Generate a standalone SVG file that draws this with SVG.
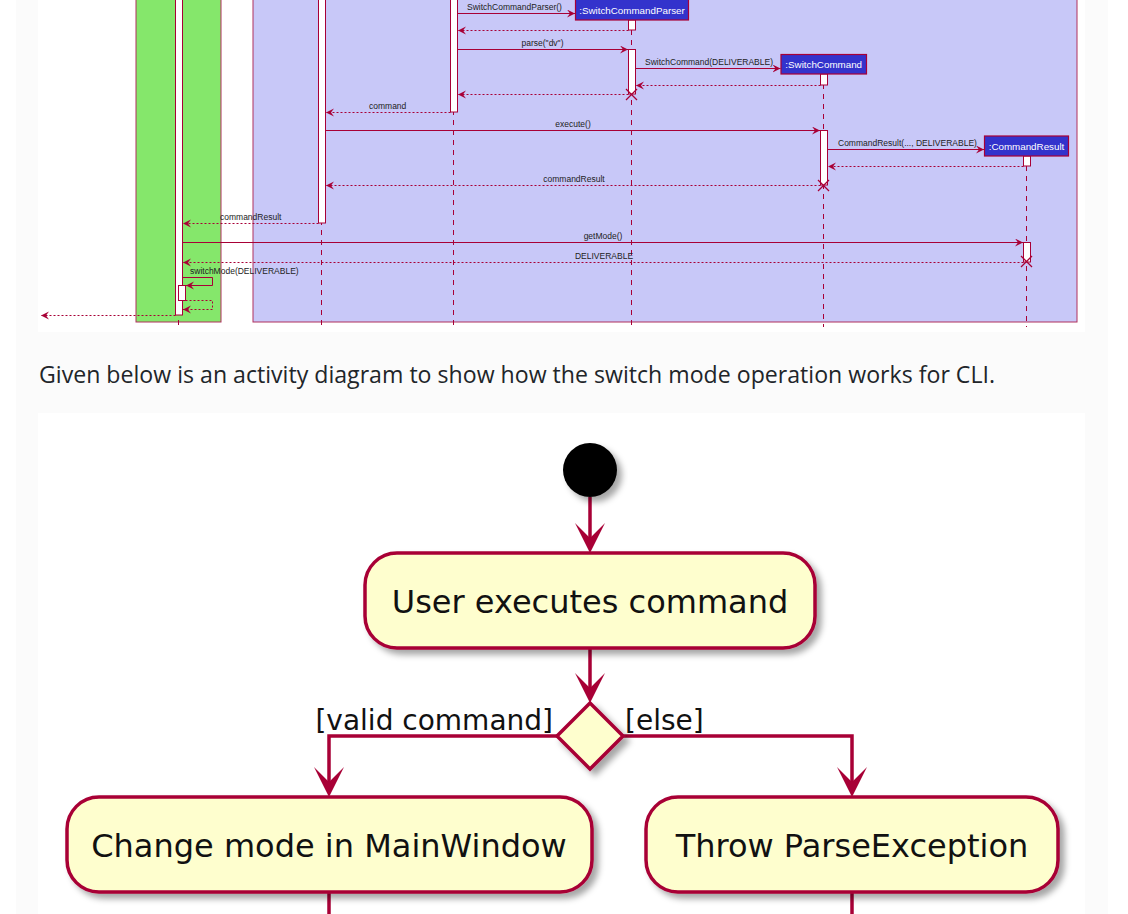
<svg xmlns="http://www.w3.org/2000/svg" width="1128" height="914" viewBox="0 0 1128 914">
<style>
.seq{font-family:"Liberation Sans",Arial,sans-serif;font-size:8.5px;fill:#222}
.head{font-family:"Liberation Sans",Arial,sans-serif;font-size:9.8px;fill:#ffffff}
.life{stroke:#A80036;stroke-width:1;stroke-dasharray:5,5;fill:none}
.msg{stroke:#A80036;stroke-width:1;fill:none;marker-end:url(#sa)}
.ret{stroke:#A80036;stroke-width:1;stroke-dasharray:2,2;fill:none;marker-end:url(#sa)}
.act{fill:#ffffff;stroke:#A80036;stroke-width:1}
.hbox{fill:#3333cc;stroke:#A80036;stroke-width:1.2}
.anode{fill:#FEFECE;stroke:#A80036;stroke-width:3.5}
.aedge{stroke:#A80036;stroke-width:3.5;fill:none}
.atxt{font-family:"DejaVu Sans",Verdana,sans-serif;font-size:32px;fill:#111}
.glbl{font-family:"DejaVu Sans",Verdana,sans-serif;font-size:28px;fill:#111}
.para{font-family:"Open Sans","Noto Sans",sans-serif;font-size:23px;fill:#212529}
</style>
<defs>
<marker id="sa" markerUnits="userSpaceOnUse" markerWidth="10" markerHeight="10" refX="8" refY="4" orient="auto">
<path d="M0,0 L8,4 L0,8 L3,4 Z" fill="#A80036"/>
</marker>
<filter id="sh" x="-10%" y="-10%" width="130%" height="140%">
<feDropShadow dx="5" dy="5" stdDeviation="3" flood-color="#000" flood-opacity="0.35"/>
</filter>
</defs>
<rect x="0" y="0" width="1128" height="914" fill="#ffffff"/>
<rect x="16" y="0" width="1092" height="914" fill="#fbfbfb"/>
<rect x="38" y="0" width="1047" height="332" fill="#ffffff"/>
<rect x="38" y="413" width="1047" height="501" fill="#ffffff"/>
<text class="para" x="39" y="383" textLength="956" lengthAdjust="spacingAndGlyphs">Given below is an activity diagram to show how the switch mode operation works for CLI.</text>

<g id="sequence">
<rect id="box-ui" x="136" y="-2" width="85" height="324" fill="#85e76b" stroke="#b0305e" stroke-width="1"/>
<rect id="box-logic" x="253" y="-2" width="824" height="324" fill="#c8c8f8" stroke="#b0305e" stroke-width="1"/>
<g id="lifelines">
<line class="life" x1="178.5" y1="0" x2="178.5" y2="327"/>
<line class="life" x1="321.5" y1="0" x2="321.5" y2="327"/>
<line class="life" x1="453.5" y1="0" x2="453.5" y2="327"/>
<line class="life" x1="631.5" y1="20" x2="631.5" y2="327"/>
<line class="life" x1="823.5" y1="74" x2="823.5" y2="327"/>
<line class="life" x1="1026.5" y1="156" x2="1026.5" y2="327"/>
</g>
<g id="activations">
<rect class="act" x="175.5" y="-2" width="7" height="317"/>
<rect class="act" x="178.5" y="285.5" width="7" height="15"/>
<rect class="act" x="318.5" y="-2" width="7" height="225"/>
<rect class="act" x="450.5" y="-2" width="7" height="114"/>
<rect class="act" x="628.5" y="20" width="7" height="10"/>
<rect class="act" x="628.5" y="49.5" width="7" height="44.5"/>
<rect class="act" x="820.5" y="74" width="7" height="11"/>
<rect class="act" x="820.5" y="130.5" width="7" height="54.5"/>
<rect class="act" x="1023.5" y="156" width="7" height="10"/>
<rect class="act" x="1023.5" y="242.5" width="7" height="19.5"/>
</g>
<g id="head-SwitchCommandParser">
<rect class="hbox" x="575.5" y="-3" width="113" height="23"/>
<text class="head" x="632" y="14" text-anchor="middle">:SwitchCommandParser</text>
</g>
<g id="head-SwitchCommand">
<rect class="hbox" x="781" y="54.5" width="85.5" height="19.5"/>
<text class="head" x="823.7" y="68" text-anchor="middle">:SwitchCommand</text>
</g>
<g id="head-CommandResult">
<rect class="hbox" x="984.5" y="136" width="84" height="20"/>
<text class="head" x="1026.5" y="150" text-anchor="middle">:CommandResult</text>
</g>
<g id="messages">
<line class="msg" x1="457.5" y1="13.5" x2="575" y2="13.5"/>
<text class="seq" x="467" y="10">SwitchCommandParser()</text>
<line class="ret" x1="628.5" y1="30.5" x2="458" y2="30.5"/>
<line class="msg" x1="457.5" y1="49.5" x2="628" y2="49.5"/>
<text class="seq" x="542.5" y="46" text-anchor="middle">parse("dv")</text>
<line class="msg" x1="635.5" y1="68.5" x2="780.5" y2="68.5"/>
<text class="seq" x="645" y="65">SwitchCommand(DELIVERABLE)</text>
<line class="ret" x1="820.5" y1="85.5" x2="636" y2="85.5"/>
<line class="ret" x1="628.5" y1="94.5" x2="458" y2="94.5"/>
<line class="ret" x1="450.5" y1="112.5" x2="326" y2="112.5"/>
<text class="seq" x="369" y="108.5">command</text>
<line class="msg" x1="325.5" y1="130.5" x2="820" y2="130.5"/>
<text class="seq" x="573" y="127" text-anchor="middle">execute()</text>
<line class="msg" x1="827.5" y1="149.5" x2="984" y2="149.5"/>
<text class="seq" x="838" y="146">CommandResult(..., DELIVERABLE)</text>
<line class="ret" x1="1023.5" y1="166.5" x2="828" y2="166.5"/>
<line class="ret" x1="820.5" y1="185.5" x2="326" y2="185.5"/>
<text class="seq" x="574" y="182" text-anchor="middle">commandResult</text>
<line class="ret" x1="318.5" y1="223.5" x2="183" y2="223.5"/>
<text class="seq" x="220" y="220">commandResult</text>
<line class="msg" x1="182.5" y1="242.5" x2="1023" y2="242.5"/>
<text class="seq" x="603" y="239" text-anchor="middle">getMode()</text>
<line class="ret" x1="1023.5" y1="262.5" x2="183" y2="262.5"/>
<text class="seq" x="604" y="258.5" text-anchor="middle">DELIVERABLE</text>
<polyline class="msg" points="182.5,277.5 212.5,277.5 212.5,285.5 186,285.5"/>
<text class="seq" x="190" y="274">switchMode(DELIVERABLE)</text>
<polyline class="ret" points="185.5,300.5 212.5,300.5 212.5,309.5 183,309.5"/>
<line class="ret" x1="175.5" y1="315.5" x2="41" y2="315.5"/>
<g stroke="#A80036" stroke-width="1.3">
<line x1="626" y1="89" x2="637" y2="100"/><line x1="637" y1="89" x2="626" y2="100"/>
<line x1="818" y1="180" x2="829" y2="191"/><line x1="829" y1="180" x2="818" y2="191"/>
<line x1="1021" y1="256" x2="1032" y2="267"/><line x1="1032" y1="256" x2="1021" y2="267"/>
</g>
</g>
</g>

<g id="activity">
<g id="connectors">
<line class="aedge" x1="590" y1="497" x2="590" y2="540"/>
<polygon points="590,553 575,523 590,538 605,523" fill="#A80036"/>
<line class="aedge" x1="590" y1="648" x2="590" y2="690"/>
<polygon points="590,703 575,673 590,688 605,673" fill="#A80036"/>
<polyline class="aedge" points="558,736 329,736 329,785"/>
<polygon points="329,797 314,767 329,782 344,767" fill="#A80036"/>
<polyline class="aedge" points="623,736 852,736 852,785"/>
<polygon points="852,797 837,767 852,782 867,767" fill="#A80036"/>
<line class="aedge" x1="329" y1="892" x2="329" y2="914"/>
<line class="aedge" x1="852" y1="892" x2="852" y2="914"/>
<text class="glbl" x="553" y="730" text-anchor="end">[valid command]</text>
<text class="glbl" x="625" y="730">[else]</text>
</g>
<g id="start">
<circle cx="590" cy="470" r="27" fill="#000" filter="url(#sh)"/>
</g>
<g id="user-executes-command">
<rect class="anode" x="365" y="553" width="450" height="95" rx="32" filter="url(#sh)"/>
<text class="atxt" x="590" y="613" text-anchor="middle">User executes command</text>
</g>
<g id="decision">
<polygon class="anode" points="590,703 623,736 590,769 557,736" filter="url(#sh)"/>
</g>
<g id="change-mode">
<rect class="anode" x="67" y="797" width="525" height="95" rx="32" filter="url(#sh)"/>
<text class="atxt" x="329" y="857" text-anchor="middle">Change mode in MainWindow</text>
</g>
<g id="throw-parse-exception">
<rect class="anode" x="646" y="797" width="412" height="95" rx="32" filter="url(#sh)"/>
<text class="atxt" x="852" y="857" text-anchor="middle">Throw ParseException</text>
</g>
</g>
</svg>
